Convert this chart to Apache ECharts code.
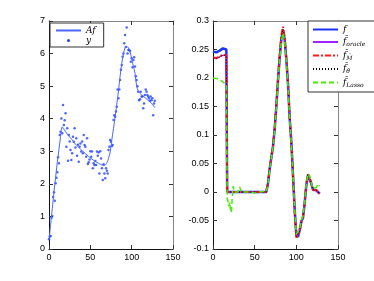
<!DOCTYPE html>
<html><head><meta charset="utf-8">
<script src="https://cdn.jsdelivr.net/npm/echarts@6/dist/echarts.min.js"></script>
<style>html,body{margin:0;padding:0;background:#fff}#c{width:374px;height:281px}</style>
</head><body><div id="c"></div>
<script>
// ---- left panel data ----
const afX = [0,2,4,6,8,10,12,14,16,18,20,24,28,32,36,40,44,48,52,56,60,64,67,70,72,74,76,78,80,82,84,86,88,90,92,94,96,98,100,102,104,106,108,110,112,116,120,124,128];
const afY = [0.28,0.75,1.25,1.75,2.2,2.65,3.05,3.45,3.75,3.68,3.6,3.47,3.35,3.22,3.12,3.02,2.93,2.84,2.76,2.69,2.63,2.58,2.56,2.65,2.78,2.98,3.35,3.7,4.05,4.45,4.85,5.3,5.7,5.98,6.18,6.22,6.18,6.05,5.85,5.62,5.4,5.0,4.85,4.78,4.73,4.65,4.56,4.47,4.34];
const obsY = [0.3,0.38,0.4,0.96,1.01,1.6,1.74,1.48,2.02,2.19,2.36,2.82,2.63,3.5,3.6,4.01,3.55,4.42,3.81,3.95,4.17,3.14,3.71,2.71,3.5,3.3,3.04,2.73,2.94,3.45,3.29,3.71,3.12,3.4,2.86,3.2,2.68,3.14,3.24,2.99,3.3,2.94,3.5,3.19,3.14,2.83,3.4,2.61,2.66,2.75,3.0,2.83,2.99,2.48,2.63,2.58,2.7,2.58,2.99,2.86,2.96,2.32,3.0,2.78,2.48,2.12,2.6,2.32,2.17,2.48,2.4,2.32,3.04,3.14,3.35,3.29,3.16,3.19,3.96,4.11,4.06,4.22,4.37,4.9,4.63,4.9,5.19,5.5,5.65,5.9,6.0,6.32,6.57,6.2,6.8,6.0,6.11,6.11,6.08,5.75,5.86,5.58,5.8,5.89,5.6,5.3,5.19,5.0,4.83,4.57,4.6,4.83,4.68,4.68,4.32,4.47,4.73,4.9,4.83,4.73,4.68,4.63,4.55,4.68,4.57,4.63,4.11,4.47,4.55];

// ---- right panel data ----
const rX = [0,2,4,6,8,10,12,14,16,17,20,30,40,50,60,64,66,68,70,72,74,76,78,80,82,84,86,88,90,92,94,96,98,100,102,104,106,108,110,112,114,116,118,120,122,124,126,128];
const fY = [0.246,0.245,0.245,0.246,0.248,0.251,0.252,0.251,0.250,0,0,0,0,0,0,0,0.015,0.04,0.06,0.08,0.11,0.15,0.195,0.235,0.268,0.283,0.268,0.232,0.19,0.13,0.088,0.03,-0.03,-0.075,-0.079,-0.067,-0.052,-0.045,-0.02,0.012,0.03,0.027,0.015,0.004,0.005,0.003,0.0,-0.003];
const oracleY = [0.235,0.234,0.234,0.235,0.237,0.239,0.240,0.240,0.239,0,0,0,0,0,0,0,0.016,0.041,0.061,0.081,0.112,0.152,0.197,0.238,0.271,0.286,0.269,0.233,0.19,0.13,0.087,0.028,-0.032,-0.078,-0.081,-0.068,-0.052,-0.044,-0.019,0.013,0.031,0.027,0.014,0.004,0.005,0.003,0.0,-0.003];
const mhatY = [0.236,0.235,0.235,0.236,0.238,0.240,0.241,0.241,0.240,0,0,0,0,0,0,0,0.016,0.042,0.062,0.082,0.113,0.154,0.2,0.242,0.275,0.29,0.272,0.235,0.191,0.131,0.086,0.027,-0.034,-0.08,-0.083,-0.069,-0.051,-0.043,-0.018,0.014,0.031,0.026,0.013,0.004,0.005,0.003,0.0,-0.003];
const thetaY = [0.235,0.234,0.234,0.235,0.237,0.239,0.240,0.240,0.239,0,0,0,0,0,0,0,0.016,0.041,0.061,0.081,0.112,0.152,0.197,0.238,0.271,0.286,0.269,0.233,0.19,0.13,0.087,0.028,-0.032,-0.078,-0.081,-0.068,-0.052,-0.044,-0.019,0.013,0.031,0.027,0.014,0.004,0.005,0.003,0.0,-0.003];
const lassoX = [0,2,4,6,8,10,12,14,16,17,18,19,20,21,22,23,24,25,26,28,30,32,34,36,40,45,50,52,55,60,64,66,68,70,72,74,76,78,80,82,84,86,88,90,92,94,96,98,100,102,104,106,108,110,112,114,116,118,120,122,124,126,128];
const lassoY = [0.2,0.2,0.199,0.198,0.197,0.195,0.193,0.191,0.188,-0.012,-0.016,-0.025,-0.018,-0.03,-0.036,-0.012,0.01,0.009,0.0,0.002,0.0,0.009,0.0,0.0,0.0,0.0,-0.002,-0.004,0.0,0.001,0.0,0.014,0.039,0.059,0.079,0.109,0.149,0.193,0.232,0.264,0.279,0.264,0.23,0.186,0.128,0.086,0.029,-0.03,-0.074,-0.077,-0.065,-0.05,-0.042,-0.019,0.014,0.032,0.028,0.016,0.006,0.006,0.008,0.014,0.01];

const xTicks = [0,50,100,150];

function pairs(xs, ys){ return xs.map((x,i)=>[x,ys[i]]); }
const obsX = obsY.map((_,i)=>i);

const labelFont = {fontFamily:'Liberation Sans, Arial, sans-serif', fontSize:9, color:'#000'};
function xAx(g, pos, labels){
  return {gridIndex:g, type:'value', min:0, max:150, interval:50, position:pos,
    axisLine:{show:true, onZero:false, lineStyle:{color: pos==='bottom'?'#111':'#888', width:1}},
    axisTick:{show:true, inside:true, length:4, lineStyle:{color:'#333'}},
    axisLabel:Object.assign({show:labels, margin:4}, labelFont),
    splitLine:{show:false}};
}
function yAx(g, pos, labels, min, max, iv, fmt){
  return {gridIndex:g, type:'value', min:min, max:max, interval:iv, position:pos,
    axisLine:{show:true, onZero:false, lineStyle:{color: pos==='left'?'#111':'#888', width:1}},
    axisTick:{show:true, inside:true, length:4, lineStyle:{color:'#333'}},
    axisLabel:Object.assign({show:labels, margin:4, formatter:fmt}, labelFont),
    splitLine:{show:false}};
}
const fmtR = v => String(Math.round(v*100)/100);
const fmtL = v => String(Math.round(v));

const rich = {
  i:{fontFamily:'DejaVu Serif, Liberation Serif, serif', fontStyle:'italic', fontSize:9, color:'#000'},
  s:{fontFamily:'DejaVu Serif, Liberation Serif, serif', fontStyle:'italic', fontSize:6, color:'#000', padding:[5,0,0,0]}
};
const rightNames = {f:'{i|f}', oracle:'{i|f\u0302}{s|oracle}', M:'{i|f\u0302}{s|M\u0302}', theta:'{i|f\u0302}{s|\u03B8\u0302}', lasso:'{i|f\u0302}{s|Lasso}'};
const leftNames = {Af:'{i|Af}', y:'{i|y}'};

const option = {
  animation:false,
  backgroundColor:'#fff',
  grid:[{left:49, top:21, width:124, height:228}, {left:213, top:21, width:125, height:228}],
  xAxis:[xAx(0,'bottom',true), xAx(0,'top',false), xAx(1,'bottom',true), xAx(1,'top',false)],
  yAxis:[yAx(0,'left',true,0,7,1,fmtL), yAx(0,'right',false,0,7,1,fmtL),
         yAx(1,'left',true,-0.1,0.3,0.05,fmtR), yAx(1,'right',false,-0.1,0.3,0.05,fmtR)],
  legend:[
    {data:['Af',{name:'y', icon:'circle', itemStyle:{opacity:1}}], orient:'vertical', left:50, top:23, itemWidth:25, itemHeight:3, itemGap:1,
     padding:[3,8,2,5], borderColor:'#333', borderWidth:1, backgroundColor:'#fff',
     itemStyle:{opacity:0},
     formatter:n=>leftNames[n], textStyle:{rich:rich}},
    {data:['f','oracle','M','theta','lasso'], orient:'vertical', left:308, top:21, itemWidth:25, itemHeight:4, itemGap:3.5,
     padding:[4,30,4,4], borderColor:'#333', borderWidth:1, backgroundColor:'#fff',
     itemStyle:{opacity:0},
     formatter:n=>rightNames[n], textStyle:{rich:rich}}
  ],
  series:[
    {name:'Af', type:'line', xAxisIndex:0, yAxisIndex:0, data:pairs(afX,afY), showSymbol:false, symbol:'none',
     smooth:0.3, lineStyle:{color:'#4a66ff', width:1}, itemStyle:{color:'#4a66ff'}},
    {name:'y', type:'scatter', xAxisIndex:0, yAxisIndex:0, data:pairs(obsX,obsY), symbol:'circle', symbolSize:2.5,
     itemStyle:{color:'#2040ff'}},
    {name:'f', type:'line', xAxisIndex:2, yAxisIndex:2, data:pairs(rX,fY), symbol:'none',
     lineStyle:{color:'#1a33ff', width:2.5}, itemStyle:{color:'#1a33ff'}},
    {name:'oracle', type:'line', xAxisIndex:2, yAxisIndex:2, data:pairs(rX,oracleY), symbol:'none',
     lineStyle:{color:'#a020ff', width:1.2}, itemStyle:{color:'#a020ff'}},
    {name:'M', type:'line', xAxisIndex:2, yAxisIndex:2, data:pairs(rX,mhatY), symbol:'none',
     lineStyle:{color:'#ff1a1a', width:2, type:[6,2,2,2]}, itemStyle:{color:'#ff1a1a'}},
    {name:'theta', type:'line', xAxisIndex:2, yAxisIndex:2, data:pairs(rX,thetaY), symbol:'none',
     lineStyle:{color:'#000', width:1, type:[1,2]}, itemStyle:{color:'#000'}},
    {name:'lasso', type:'line', xAxisIndex:2, yAxisIndex:2, data:pairs(lassoX,lassoY), symbol:'none',
     lineStyle:{color:'#44ee00', width:1.5, type:[5,3]}, itemStyle:{color:'#44ee00'}}
  ]
};
const chart = echarts.init(document.getElementById('c'), null, {renderer:'canvas'});
chart.setOption(option);
</script></body></html>
